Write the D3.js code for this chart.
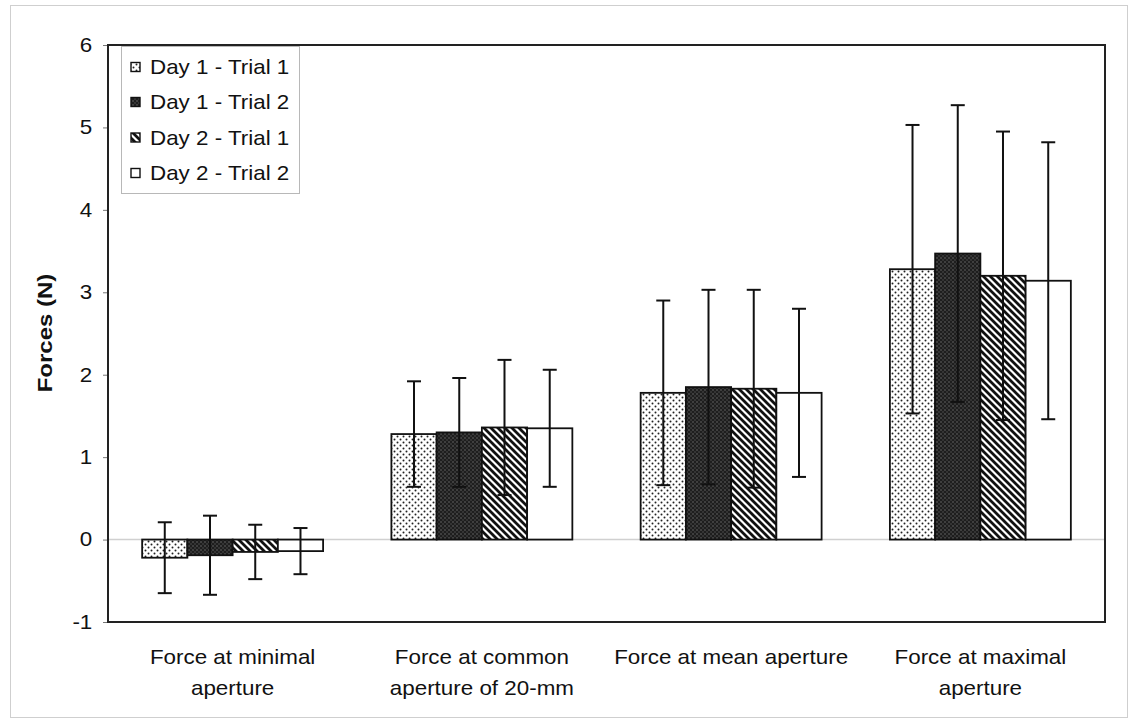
<!DOCTYPE html>
<html>
<head>
<meta charset="utf-8">
<script src="https://cdn.jsdelivr.net/npm/d3@7"></script>
<style>
    body { margin: 0; background: #fff; }
    svg text { font-family: "Liberation Sans", Arial, sans-serif; fill: #111; }
</style>
</head>
<body>
<svg id="chart" width="1132" height="722"></svg>
<script>
// categories on the x axis (one array of lines per label)
let categories = ["minimal", "common", "mean", "maximal"];
let categoryLabels = [
    ["Force at minimal", "aperture"],
    ["Force at common", "aperture of 20-mm"],
    ["Force at mean aperture"],
    ["Force at maximal", "aperture"]
];
let seriesNames = ["Day 1 - Trial 1", "Day 1 - Trial 2", "Day 2 - Trial 1", "Day 2 - Trial 2"];

// means and standard deviations
let day1Trial1 = [-0.22, 1.28, 1.78, 3.28];
let day1Trial2 = [-0.19, 1.30, 1.85, 3.47];
let day2Trial1 = [-0.15, 1.36, 1.83, 3.20];
let day2Trial2 = [-0.14, 1.35, 1.78, 3.14];

let day1Trial1Sd = [0.43, 0.64, 1.12, 1.75];
let day1Trial2Sd = [0.48, 0.66, 1.18, 1.80];
let day2Trial1Sd = [0.33, 0.82, 1.20, 1.75];
let day2Trial2Sd = [0.28, 0.71, 1.02, 1.68];

let yTicks = [-1, 0, 1, 2, 3, 4, 5, 6];

let means = [day1Trial1, day1Trial2, day2Trial1, day2Trial2];
let sds = [day1Trial1Sd, day1Trial2Sd, day2Trial1Sd, day2Trial2Sd];

let svg = d3.select("#chart");
let margin = {top: 45, right: 27, bottom: 100, left: 108},
    width = 1132 - margin.left - margin.right,
    height = 722 - margin.top - margin.bottom;

// text in the scan is a little wider than Arial
let stretch = 1.12;

// outer border of the figure
svg.append("rect")
    .attr("x", 10.5).attr("y", 5.5)
    .attr("width", 1117).attr("height", 712)
    .attr("fill", "none")
    .attr("stroke", "#cfcfcf");

// fill patterns
let defs = svg.append("defs");

let dots = defs.append("pattern")
    .attr("id", "p0").attr("patternUnits", "userSpaceOnUse")
    .attr("width", 6).attr("height", 6);
dots.append("rect").attr("width", 6).attr("height", 6).attr("fill", "#fff");
dots.append("circle").attr("cx", 1.5).attr("cy", 1.5).attr("r", 1).attr("fill", "#222");
dots.append("circle").attr("cx", 4.5).attr("cy", 4.5).attr("r", 1).attr("fill", "#222");

let dark = defs.append("pattern")
    .attr("id", "p1").attr("patternUnits", "userSpaceOnUse")
    .attr("width", 4).attr("height", 4);
dark.append("rect").attr("width", 4).attr("height", 4).attr("fill", "#1e1e1e");
dark.append("circle").attr("cx", 1).attr("cy", 1).attr("r", 0.7).attr("fill", "#7a7a7a");
dark.append("circle").attr("cx", 3).attr("cy", 3).attr("r", 0.7).attr("fill", "#5a5a5a");

let hatch = defs.append("pattern")
    .attr("id", "p2").attr("patternUnits", "userSpaceOnUse")
    .attr("width", 7).attr("height", 7);
hatch.append("rect").attr("width", 7).attr("height", 7).attr("fill", "#fff");
hatch.append("path")
    .attr("d", "M0,0 L7,7 M-2,5 L2,9 M5,-2 L9,2")
    .attr("stroke", "#111").attr("stroke-width", 2.8);

let fills = ["url(#p0)", "url(#p1)", "url(#p2)", "#fff"];

let g = svg.append("g")
    .attr("transform", "translate(" + margin.left + "," + margin.top + ")");

// scales
let x0 = d3.scaleBand()
    .domain(categories)
    .range([0, width])
    .paddingInner(0.274)
    .paddingOuter(0.137);

let x1 = d3.scaleBand()
    .domain(seriesNames)
    .range([0, x0.bandwidth()]);

let y = d3.scaleLinear()
    .domain([-1, 6])
    .range([height, 0]);

// zero line
g.append("line")
    .attr("x1", 0).attr("x2", width)
    .attr("y1", y(0)).attr("y2", y(0))
    .attr("stroke", "#d0d0d0").attr("stroke-width", 1.5);

// bars
let bars = [];
seriesNames.forEach(function (s, i) {
    categories.forEach(function (c, j) {
        bars.push({series: s, si: i, cat: c, mean: means[i][j], sd: sds[i][j]});
    });
});

g.selectAll(".bar")
    .data(bars)
    .enter().append("rect")
    .attr("class", "bar")
    .attr("x", function (d) { return x0(d.cat) + x1(d.series); })
    .attr("width", x1.bandwidth())
    .attr("y", function (d) { return y(Math.max(0, d.mean)); })
    .attr("height", function (d) { return Math.abs(y(d.mean) - y(0)); })
    .attr("fill", function (d) { return fills[d.si]; })
    .attr("stroke", "#111")
    .attr("stroke-width", 1.8);

// error bars
let err = g.selectAll(".err")
    .data(bars)
    .enter().append("g")
    .attr("class", "err")
    .attr("transform", function (d) {
        return "translate(" + (x0(d.cat) + x1(d.series) + x1.bandwidth() / 2) + ",0)";
    })
    .attr("stroke", "#111")
    .attr("stroke-width", 2);

err.append("line")
    .attr("y1", function (d) { return y(d.mean - d.sd); })
    .attr("y2", function (d) { return y(d.mean + d.sd); });
err.append("line")
    .attr("x1", -7).attr("x2", 7)
    .attr("y1", function (d) { return y(d.mean + d.sd); })
    .attr("y2", function (d) { return y(d.mean + d.sd); });
err.append("line")
    .attr("x1", -7).attr("x2", 7)
    .attr("y1", function (d) { return y(d.mean - d.sd); })
    .attr("y2", function (d) { return y(d.mean - d.sd); });

// y axis
let yAxis = g.append("g")
    .call(d3.axisLeft(y).tickValues(yTicks).tickSize(5).tickPadding(9)
        .tickFormat(function (d) { return String(d); }));
yAxis.select(".domain").remove();
yAxis.selectAll("line").attr("stroke", "#777");
yAxis.selectAll("text")
    .style("font-size", "20px")
    .attr("fill", "#111")
    .attr("transform", "scale(" + stretch + ",1)");

// plot frame
g.append("rect")
    .attr("width", width).attr("height", height)
    .attr("fill", "none")
    .attr("stroke", "#222")
    .attr("stroke-width", 2);

// y axis title
svg.append("text")
    .attr("transform", "translate(45,333) rotate(-90) scale(1.2,1)")
    .attr("text-anchor", "middle")
    .attr("dy", "0.35em")
    .style("font-size", "20px")
    .style("font-weight", "bold")
    .text("Forces (N)");

// category labels
categories.forEach(function (c, j) {
    categoryLabels[j].forEach(function (line, k) {
        svg.append("text")
            .attr("transform", "translate(" + (margin.left + x0(c) + x0.bandwidth() / 2) + "," + (664 + k * 31) + ") scale(" + stretch + ",1)")
            .attr("text-anchor", "middle")
            .style("font-size", "20px")
            .text(line);
    });
});

// legend
let legend = svg.append("g");
legend.append("rect")
    .attr("x", 121.5).attr("y", 46.5)
    .attr("width", 178).attr("height", 147)
    .attr("fill", "#fff")
    .attr("stroke", "#b8b8b8");

let rowY = [67, 102, 137.5, 173];
seriesNames.forEach(function (s, i) {
    legend.append("rect")
        .attr("x", 131).attr("y", rowY[i] - 4.5)
        .attr("width", 9).attr("height", 9)
        .attr("fill", fills[i])
        .attr("stroke", "#111").attr("stroke-width", 1.4);
    legend.append("text")
        .attr("transform", "translate(150," + rowY[i] + ") scale(" + stretch + ",1)")
        .attr("dy", "0.35em")
        .style("font-size", "20px")
        .text(s);
});
</script>
</body>
</html>
